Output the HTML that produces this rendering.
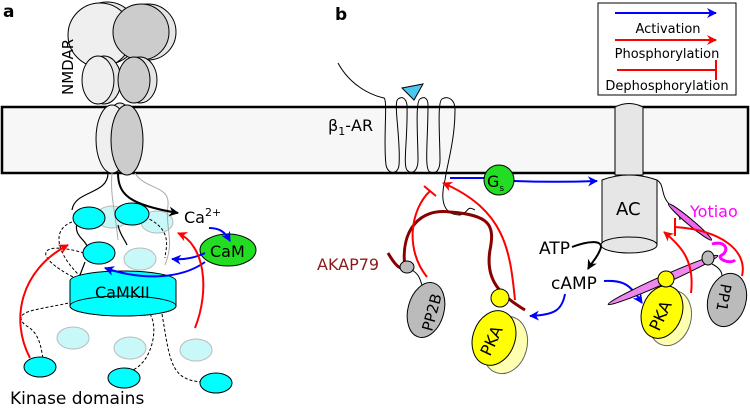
<!DOCTYPE html>
<html><head><meta charset="utf-8"><style>html,body{margin:0;padding:0;background:#fff}svg{display:block}text{font-family:"DejaVu Sans","Liberation Sans",sans-serif}</style></head><body>
<svg width="750" height="409" viewBox="0 0 750 409" xmlns="http://www.w3.org/2000/svg">
<defs>
<marker id="ab" viewBox="0 0 10 10" refX="9" refY="5" markerWidth="5" markerHeight="5" orient="auto"><path d="M0,0 L10,5 L0,10 L3,5z" fill="#00f"/></marker>
<marker id="ar" viewBox="0 0 10 10" refX="9" refY="5" markerWidth="5" markerHeight="5" orient="auto"><path d="M0,0 L10,5 L0,10 L3,5z" fill="#f00"/></marker>
<marker id="ak" viewBox="0 0 10 10" refX="9" refY="5" markerWidth="5" markerHeight="5" orient="auto"><path d="M0,0 L10,5 L0,10 L3,5z" fill="#000"/></marker>
</defs>
<rect x="2" y="107" width="746" height="66" fill="#f7f7f7" stroke="#000" stroke-width="2.5"/>
<text x="3" y="17" font-size="17" font-weight="bold">a</text>
<text x="335" y="20" font-size="17" font-weight="bold">b</text>

<!-- NMDAR -->
<g stroke="#000" stroke-width="1">
<circle cx="107" cy="33" r="31" fill="#e6e6e6"/>
<circle cx="148" cy="32" r="28" fill="#e6e6e6"/>
<circle cx="100" cy="35" r="32" fill="#efefef"/>
<circle cx="141" cy="32" r="28" fill="#ccc"/>
<ellipse cx="104" cy="80" rx="17" ry="24" fill="#e6e6e6"/>
<ellipse cx="140" cy="80" rx="17" ry="23" fill="#e6e6e6"/>
<ellipse cx="98" cy="80" rx="16" ry="24" fill="#efefef"/>
<ellipse cx="134" cy="80" rx="16" ry="23" fill="#ccc"/>
<ellipse cx="120" cy="137" rx="15" ry="34" fill="#e6e6e6"/>
<ellipse cx="112" cy="139" rx="16" ry="34" fill="#efefef"/>
<ellipse cx="127" cy="140" rx="16" ry="35" fill="#ccc"/>
</g>
<text transform="translate(73,95) rotate(-90)" font-size="15">NMDAR</text>

<g fill="#c8f8f8" stroke="#bbb" stroke-width="1">
<ellipse cx="112" cy="217" rx="16" ry="11"/><ellipse cx="157" cy="222" rx="16" ry="11"/>
<ellipse cx="140" cy="259" rx="16" ry="11"/>
<ellipse cx="73" cy="338" rx="16" ry="11"/><ellipse cx="130" cy="348" rx="16" ry="11"/><ellipse cx="196" cy="350" rx="16" ry="11"/>
</g>
<g fill="none" stroke="#aaa" stroke-width="1">
<path d="M112,173 C110,195 115,210 118,240"/><path d="M135,173 C145,190 170,185 168,205 C165,230 175,240 165,265"/>
</g>
<g fill="none" stroke="#000" stroke-width="1.2">
<path d="M108,173 C108,195 75,190 72,210"/>
<path d="M78,220 C70,240 95,240 85,255"/>
<path d="M118,225 C120,235 125,240 127,245"/>
<path d="M85,262 C82,270 80,275 78,280"/>
</g>
<path d="M118,173 C118,195 130,205 178,213" fill="none" stroke="#000" stroke-width="2" marker-end="url(#ak)"/>
<g fill="none" stroke="#000" stroke-width="1" stroke-dasharray="3,2">
<path d="M72,222 C50,230 58,255 80,276"/><path d="M84,253 C40,240 30,255 75,278"/>
<path d="M145,217 C175,230 165,250 165,258"/>
<path d="M73,302 C40,310 10,310 25,325 C45,335 40,360 45,360"/>
<path d="M150,314 C160,330 150,370 125,372"/>
<path d="M162,314 C170,360 170,380 202,382"/>
</g>
<g fill="#0ff" stroke="#000" stroke-width="1">
<ellipse cx="89" cy="218" rx="16" ry="11"/><ellipse cx="132" cy="214" rx="17" ry="11"/><ellipse cx="99" cy="253" rx="16" ry="11"/>
<path d="M70,281 L70,306 A53,10 0 0 0 176,306 L176,281 A53,10 0 0 0 70,281 Z"/>
<ellipse cx="123" cy="306" rx="53" ry="10"/>
<ellipse cx="40" cy="367" rx="16" ry="10"/><ellipse cx="124" cy="378" rx="16" ry="10"/><ellipse cx="216" cy="383" rx="16" ry="10"/>
</g>
<text x="95" y="298" font-size="16">CaMKII</text>
<ellipse cx="228" cy="250" rx="28" ry="16" fill="#2d2" stroke="#000" stroke-width="1"/>
<text x="210" y="257" font-size="16">CaM</text>
<text x="184" y="223" font-size="16">Ca<tspan dy="-7" font-size="11">2+</tspan></text>
<text x="10" y="404" font-size="17">Kinase domains</text>
<g fill="none" stroke-width="2">
<path d="M209,228 C220,228 225,232 230,241" stroke="#00f" marker-end="url(#ab)"/>
<path d="M205,253 C195,258 185,260 172,259" stroke="#00f" marker-end="url(#ab)"/>
<path d="M205,262 C180,280 140,280 105,268" stroke="#00f" marker-end="url(#ab)"/>
<path d="M30,358 C10,320 20,270 68,245" stroke="#f00" marker-end="url(#ar)"/>
<path d="M195,328 C210,290 205,245 178,233" stroke="#f00" marker-end="url(#ar)"/>
</g>

<rect x="598" y="3" width="138" height="92" fill="#fff" stroke="#000" stroke-width="1"/>
<path d="M615,13 L716,13" stroke="#00f" stroke-width="2" marker-end="url(#ab)"/>
<path d="M615,40 L716,40" stroke="#f00" stroke-width="2" marker-end="url(#ar)"/>
<path d="M617,70 L716,70 M716,60 L716,80" stroke="#f00" stroke-width="2"/>
<text x="668" y="33" font-size="13" text-anchor="middle">Activation</text>
<text x="667" y="58" font-size="13" text-anchor="middle">Phosphorylation</text>
<text x="667" y="90" font-size="13" text-anchor="middle">Dephosphorylation</text>

<text x="328" y="131" font-size="16">β<tspan dy="4" font-size="11">1</tspan><tspan dy="-4">-AR</tspan></text>
<path d="M338,63 C350,85 370,95 384,98 C388,100 383,140 386,165 C388,175 398,175 399,165 C401,140 393,102 398,99 C402,96 406,98 407,105 C408,140 402,168 408,171 C413,175 418,170 418,160 C418,140 415,102 420,99 C424,96 428,98 428,105 C428,140 424,170 430,172 C436,175 440,170 440,160 C440,140 437,102 442,99 C447,96 455,98 455,110 C455,140 447,165 445,180 C440,200 443,215 460,215 C470,212 466,205 475,210" fill="none" stroke="#000" stroke-width="1"/>
<polygon points="402,88 423,84 414,100" fill="#4cc8f0" stroke="#000" stroke-width="1"/>
<path d="M450,178 L484,178 M514,181 C540,182 570,182 597,181" stroke="#00f" stroke-width="2" fill="none" marker-end="url(#ab)"/>
<circle cx="499" cy="180" r="15" fill="#2d2" stroke="#000"/>
<text x="487" y="187" font-size="16">G<tspan dy="4" font-size="9">s</tspan></text>

<path d="M388,253 C395,265 400,270 405,268 C400,230 420,208 450,212 C490,215 495,225 490,250 C485,280 500,295 525,310" fill="none" stroke="#800" stroke-width="3"/>
<text x="317" y="270" font-size="16" fill="#8b1a1a">AKAP79</text>
<ellipse cx="407" cy="267" rx="7" ry="6" fill="#bbb" stroke="#000"/>
<path d="M412,270 C420,275 420,280 422,285" fill="none" stroke="#000"/>
<ellipse cx="426" cy="310" rx="18" ry="28" transform="rotate(15 426 310)" fill="#bbb" stroke="#000"/>
<text transform="translate(432,332) rotate(-75)" font-size="15">PP2B</text>
<ellipse cx="505" cy="345" rx="22" ry="29" transform="rotate(15 505 345)" fill="#ffffb0" stroke="#666"/>
<ellipse cx="494" cy="338" rx="21" ry="28" transform="rotate(20 494 338)" fill="#ff0" stroke="#000"/>
<circle cx="500" cy="298" r="9" fill="#ff0" stroke="#000"/>
<text transform="translate(490,357) rotate(-65)" font-size="16">PKA</text>
<g fill="none" stroke="#f00" stroke-width="2">
<path d="M427,277 C405,250 410,210 430,191 M424,186 L436,196"/>
<path d="M515,300 C510,250 505,210 443,183" marker-end="url(#ar)"/>
</g>
<path d="M565,294 C562,310 555,315 530,316" stroke="#00f" stroke-width="2" fill="none" marker-end="url(#ab)"/>

<path d="M615,107 Q629,100 643,107 L643,175 L615,175 Z" fill="#e6e6e6" stroke="#000"/>
<path d="M602,180 Q629,170 657,180 L657,245 L602,245 Z" fill="#e6e6e6" stroke="#000"/>
<ellipse cx="629" cy="245" rx="28" ry="8" fill="#e6e6e6" stroke="#000"/>
<text x="616" y="215" font-size="18">AC</text>
<text x="539" y="254" font-size="17">ATP</text>
<text x="551" y="289" font-size="17">cAMP</text>
<path d="M572,247 C590,240 605,240 600,250 C597,258 592,262 588,269" stroke="#000" stroke-width="2" fill="none" marker-end="url(#ak)"/>
<path d="M604,281 C625,280 630,285 642,303" stroke="#00f" stroke-width="2" fill="none" marker-end="url(#ab)"/>
<text x="690" y="217" font-size="16" fill="#f0f">Yotiao</text>
<path d="M657,180 C665,185 660,195 670,205 C675,210 680,215 680,220" fill="none" stroke="#000"/>
<ellipse cx="690" cy="222" rx="28" ry="3" transform="rotate(40 690 222)" fill="#e6e" stroke="#000"/>
<path d="M712,244 C725,240 730,250 722,255 C715,258 730,265 735,260" fill="none" stroke="#f0f" stroke-width="3"/>
<ellipse cx="663" cy="280" rx="60" ry="4" transform="rotate(-24 663 280)" fill="#e8e" stroke="#000"/>
<ellipse cx="670" cy="318" rx="21" ry="28" transform="rotate(15 670 318)" fill="#ffffb0" stroke="#666"/>
<ellipse cx="662" cy="312" rx="20" ry="27" transform="rotate(20 662 312)" fill="#ff0" stroke="#000"/>
<circle cx="666" cy="279" r="8" fill="#ff0" stroke="#000"/>
<text transform="translate(659,332) rotate(-65)" font-size="16">PKA</text>
<ellipse cx="708" cy="258" rx="6" ry="7" fill="#bbb" stroke="#000"/>
<path d="M712,264 C720,268 722,272 722,276" fill="none" stroke="#000"/>
<ellipse cx="727" cy="300" rx="19" ry="27" transform="rotate(15 727 300)" fill="#bbb" stroke="#000"/>
<text transform="translate(721,283) rotate(100)" font-size="15">PP1</text>
<g fill="none" stroke="#f00" stroke-width="2">
<path d="M691,293 C695,260 680,245 664,232" marker-end="url(#ar)"/>
<path d="M742,276 C748,250 720,230 675,227 M675,218 L675,236"/>
</g>
</svg>
</body></html>
